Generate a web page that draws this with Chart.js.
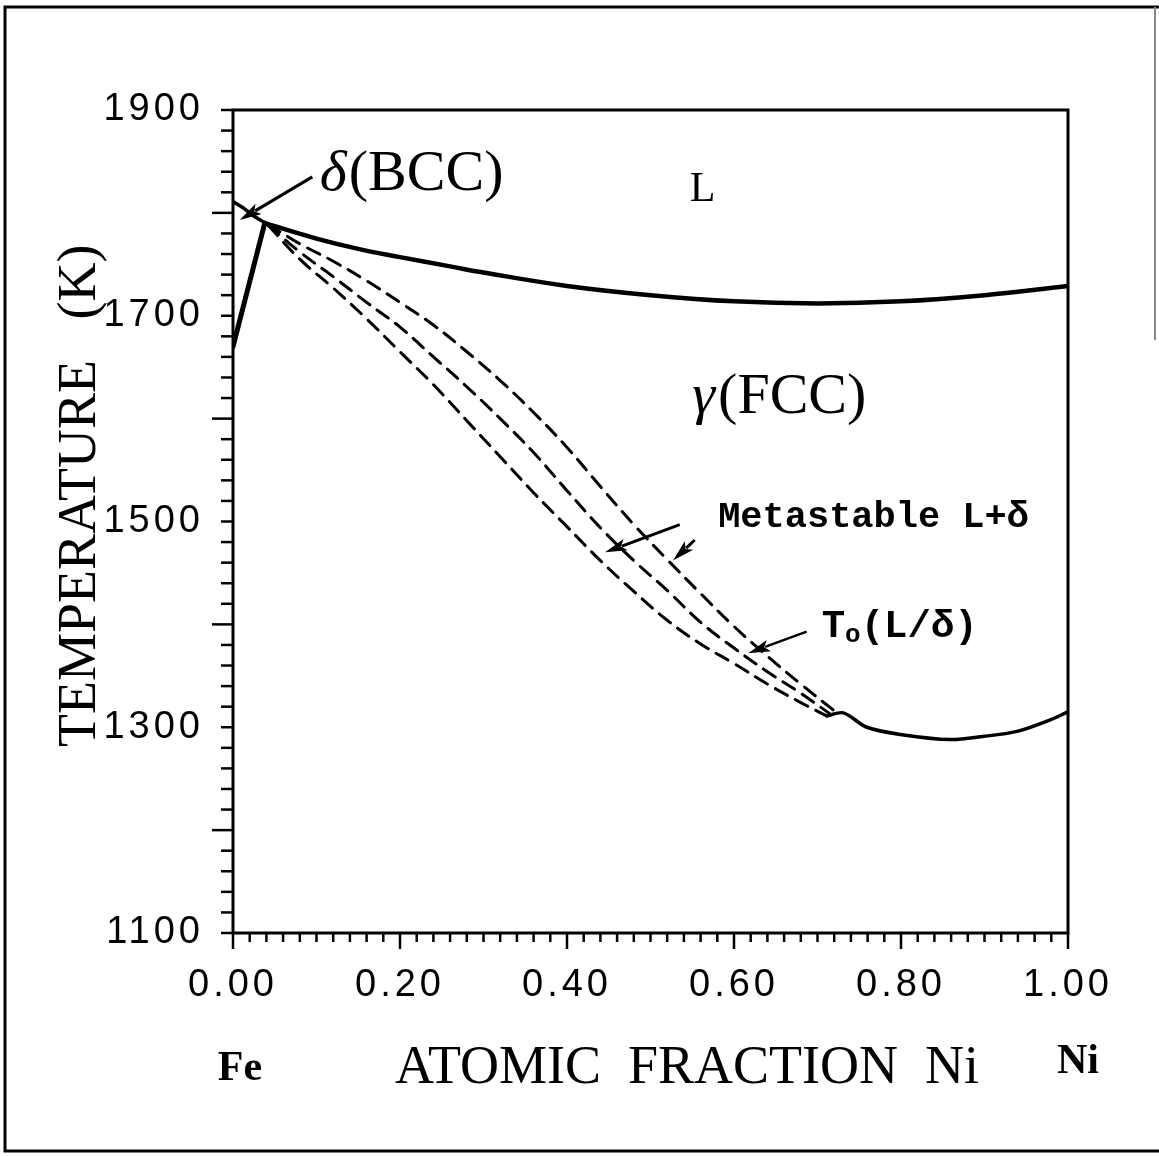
<!DOCTYPE html>
<html>
<head>
<meta charset="utf-8">
<title>Fe-Ni phase diagram</title>
<script src="https://cdn.jsdelivr.net/npm/chart.js@4.4.1/dist/chart.umd.min.js"></script>
<style>
  html, body { margin: 0; padding: 0; background: #fff; }
  #wrap { width: 1159px; height: 1156px; }
</style>
</head>
<body>
<div id="wrap"><canvas id="phase" width="1159" height="1156"></canvas></div>
<script>
// Fe-Ni diagram: stable liquidus / solidus and the metastable L+delta curves

// ---- axes ----
const xTickValues = [0, 0.2, 0.4, 0.6, 0.8, 1.0];
const yTickValues = [1100, 1300, 1500, 1700, 1900];

// ---- delta (BCC) corner at the Fe side ----
const deltaLiqX = [0, 0.012, 0.025, 0.037];
const deltaLiqT = [1811, 1805, 1797, 1791];

const deltaGammaX = [0, 0.038];
const deltaGammaT = [1670, 1790];

// ---- liquidus L / gamma ----
const liquidusX = [0.038, 0.1, 0.15, 0.2, 0.26, 0.3, 0.4, 0.5, 0.6, 0.7, 0.8, 0.9, 1.0];
const liquidusT = [1790, 1775, 1765, 1757, 1748, 1742, 1729, 1720, 1714, 1712, 1714, 1720, 1729];

// ---- low solid curve on the Ni side ----
const lowSolidX = [0.711, 0.731, 0.759, 0.799, 0.859, 0.898, 0.939, 0.978, 1.0];
const lowSolidT = [1311, 1314, 1300, 1293, 1288, 1291, 1296, 1307, 1315];

// ---- metastable dashed curves ----
const metaLowX = [0.042, 0.08, 0.12, 0.16, 0.2, 0.24, 0.28, 0.32, 0.36, 0.4, 0.44, 0.48, 0.52, 0.56, 0.6, 0.64, 0.68, 0.711];
const metaLowT = [1788, 1755, 1727, 1697, 1665, 1633, 1598, 1563, 1528, 1495, 1462, 1432, 1404, 1381, 1362, 1342, 1324, 1311];

const metaMidX = [0.042, 0.08, 0.12, 0.16, 0.2, 0.24, 0.28, 0.32, 0.36, 0.4, 0.44, 0.48, 0.52, 0.56, 0.6, 0.64, 0.68, 0.715];
const metaMidT = [1788, 1762, 1738, 1713, 1689, 1660, 1631, 1600, 1567, 1530, 1494, 1462, 1433, 1402, 1377, 1354, 1333, 1313];

const metaHighX = [0.042, 0.08, 0.12, 0.16, 0.2, 0.24, 0.28, 0.32, 0.36, 0.4, 0.44, 0.48, 0.52, 0.56, 0.6, 0.64, 0.68, 0.72];
const metaHighT = [1789, 1770, 1753, 1734, 1713, 1691, 1665, 1637, 1606, 1572, 1534, 1497, 1463, 1430, 1398, 1369, 1342, 1316];

function pts(xs, ts) {
  return xs.map((x, i) => ({ x: x, y: ts[i] }));
}

function solid(xs, ts, w, tension) {
  return {
    data: pts(xs, ts), showLine: true, borderColor: '#000', borderWidth: w,
    pointRadius: 0, tension: tension, borderCapStyle: 'round', borderJoinStyle: 'round'
  };
}

function dashed(xs, ts) {
  return {
    data: pts(xs, ts), showLine: true, borderColor: '#000', borderWidth: 3,
    pointRadius: 0, tension: 0.4, borderDash: [14, 9], borderCapStyle: 'round'
  };
}

// filled arrow head at (x1, y1)
function arrow(ctx, x0, y0, x1, y1) {
  const ang = Math.atan2(y1 - y0, x1 - x0);
  const len = 22, half = 6;
  const bx = x1 - Math.cos(ang) * len, by = y1 - Math.sin(ang) * len;
  ctx.beginPath();
  ctx.moveTo(x0, y0);
  ctx.lineTo(bx + Math.cos(ang) * 4, by + Math.sin(ang) * 4);
  ctx.stroke();
  ctx.beginPath();
  ctx.moveTo(x1, y1);
  ctx.lineTo(bx + half * Math.sin(ang), by - half * Math.cos(ang));
  ctx.lineTo(bx + Math.cos(ang) * 5, by + Math.sin(ang) * 5);
  ctx.lineTo(bx - half * Math.sin(ang), by + half * Math.cos(ang));
  ctx.closePath();
  ctx.fill();
}

const frame = {
  id: 'frame',
  beforeDraw(chart) {
    // the plotter tick numbers are widely spaced
    chart.ctx.letterSpacing = '4px';
  },
  beforeDatasetsDraw(chart) {
    chart.ctx.letterSpacing = '0px';
  },
  afterDraw(chart) {
    const { ctx, chartArea: a, scales: { x, y } } = chart;
    const px = v => x.getPixelForValue(v);
    const py = v => y.getPixelForValue(v);
    ctx.save();
    ctx.strokeStyle = '#000';
    ctx.fillStyle = '#000';

    // page border
    ctx.lineWidth = 3;
    ctx.beginPath();
    ctx.moveTo(1159, 7); ctx.lineTo(5, 7); ctx.lineTo(5, 1151); ctx.lineTo(1159, 1151);
    ctx.stroke();
    ctx.lineWidth = 2;
    ctx.strokeStyle = '#888';
    ctx.beginPath(); ctx.moveTo(1155, 7); ctx.lineTo(1155, 340); ctx.stroke();
    ctx.strokeStyle = '#000';

    // axis box
    ctx.lineWidth = 3;
    ctx.strokeRect(a.left, a.top, a.right - a.left, a.bottom - a.top);

    // y ticks every 20 K, longer at the labels
    ctx.lineWidth = 2.5;
    for (let v = 1100; v <= 1900; v += 20) {
      const yy = py(v);
      const len = v % 200 === 0 ? 21 : 12;
      ctx.beginPath(); ctx.moveTo(a.left - len, yy); ctx.lineTo(a.left, yy); ctx.stroke();
    }
    // x ticks every 0.02
    for (let i = 0; i <= 50; i++) {
      const xx = px(i / 50);
      const len = i % 10 === 0 ? 16 : 9;
      ctx.beginPath(); ctx.moveTo(xx, a.bottom); ctx.lineTo(xx, a.bottom + len); ctx.stroke();
    }

    ctx.textAlign = 'left';
    ctx.textBaseline = 'alphabetic';

    // phase labels
    ctx.font = 'italic 58px "Liberation Serif"';
    ctx.fillText('\u03b4', px(0.104), py(1822));
    const dW = ctx.measureText('\u03b4').width;
    ctx.font = '58px "Liberation Serif"';
    ctx.fillText('(BCC)', px(0.104) + dW + 2, py(1822));

    ctx.font = '42px "Liberation Serif"';
    ctx.fillText('L', px(0.547), py(1812));

    ctx.font = 'italic 58px "Liberation Serif"';
    ctx.fillText('\u03b3', px(0.55), py(1605));
    const gW = ctx.measureText('\u03b3').width;
    ctx.font = '58px "Liberation Serif"';
    ctx.fillText('(FCC)', px(0.55) + gW + 3, py(1605));

    ctx.font = 'bold 37px "Liberation Mono"';
    ctx.fillText('Metastable L+\u03b4', px(0.581), py(1495));

    const tx = px(0.705), ty = py(1388);
    ctx.font = 'bold 39px "Liberation Mono"';
    ctx.fillText('T', tx, ty);
    const tW = ctx.measureText('T').width;
    ctx.font = 'bold 26px "Liberation Mono"';
    ctx.fillText('o', tx + tW, ty + 5);
    const oW = ctx.measureText('o').width;
    ctx.font = 'bold 39px "Liberation Mono"';
    ctx.fillText('(L/\u03b4)', tx + tW + oW, ty);

    // arrows
    ctx.lineWidth = 3;
    arrow(ctx, px(0.095), py(1835), px(0.008), py(1793));
    arrow(ctx, px(0.535), py(1497), px(0.4455), py(1470));
    arrow(ctx, px(0.553), py(1482), px(0.527), py(1462));
    ctx.lineWidth = 2.5;
    arrow(ctx, px(0.687), py(1393), px(0.617), py(1372));

    // axis titles
    ctx.font = '54px "Liberation Serif"';
    ctx.fillText('ATOMIC  FRACTION  Ni', 395, 1083);
    ctx.font = 'bold 42px "Liberation Serif"';
    ctx.textAlign = 'center';
    ctx.fillText('Fe', px(0) + 7, 1080);
    ctx.fillText('Ni', px(1) + 10, 1073);

    ctx.save();
    ctx.translate(95, 747);
    ctx.rotate(-Math.PI / 2);
    ctx.textAlign = 'left';
    ctx.font = '54px "Liberation Serif"';
    ctx.fillText('TEMPERATURE   (K)', 0, 0);
    ctx.restore();

    ctx.restore();
  }
};

new Chart(document.getElementById('phase'), {
  type: 'scatter',
  data: {
    datasets: [
      solid(deltaLiqX, deltaLiqT, 3.5, 0.3),
      solid(deltaGammaX, deltaGammaT, 5, 0),
      solid(liquidusX, liquidusT, 4.5, 0.4),
      solid(lowSolidX, lowSolidT, 3.5, 0.3),
      dashed(metaLowX, metaLowT),
      dashed(metaMidX, metaMidT),
      dashed(metaHighX, metaHighT)
    ]
  },
  options: {
    responsive: false,
    animation: false,
    devicePixelRatio: 1,
    layout: { padding: { left: 0, top: 110, right: 91, bottom: 123 } },
    plugins: { legend: { display: false }, tooltip: { enabled: false } },
    scales: {
      x: {
        type: 'linear', min: 0, max: 1,
        afterFit: s => { s.height = 100; },
        afterBuildTicks: s => { s.ticks = xTickValues.map(v => ({ value: v })); },
        grid: { display: false, drawTicks: false },
        border: { display: false },
        ticks: {
          color: '#000', padding: 30, autoSkip: false, maxRotation: 0,
          font: { family: 'Liberation Sans', size: 38 },
          callback: v => v.toFixed(2)
        }
      },
      y: {
        type: 'linear', min: 1100, max: 1900,
        afterFit: s => { s.width = 233; },
        afterBuildTicks: s => { s.ticks = yTickValues.map(v => ({ value: v })); },
        grid: { display: false, drawTicks: false },
        border: { display: false },
        ticks: {
          color: '#000', padding: 29, autoSkip: false,
          font: { family: 'Liberation Sans', size: 38 },
          callback: v => String(v)
        }
      }
    }
  },
  plugins: [frame]
});
</script>
</body>
</html>
